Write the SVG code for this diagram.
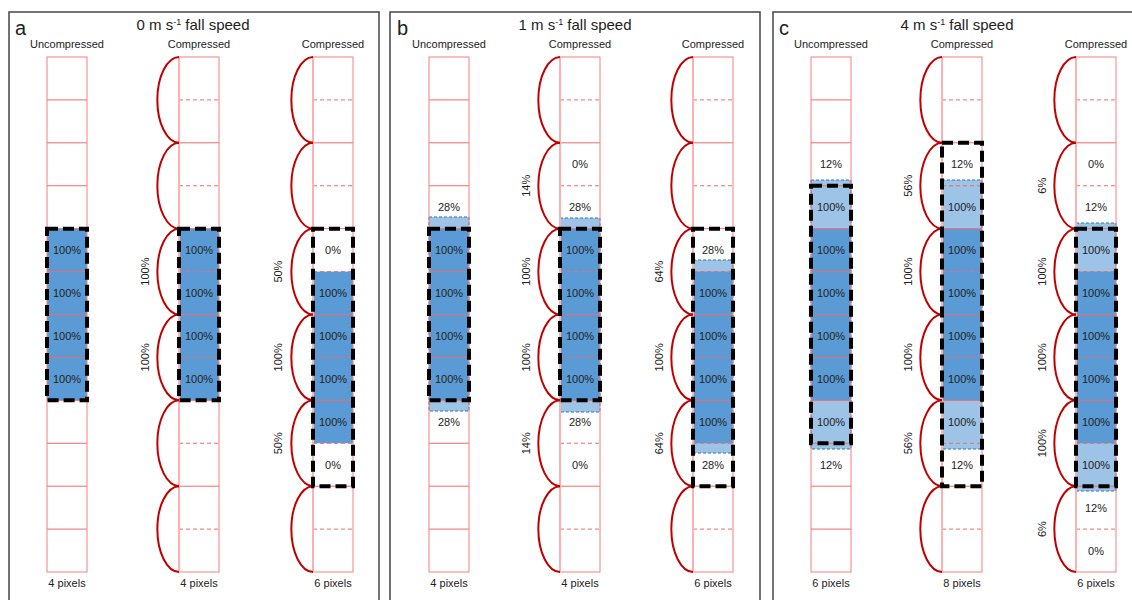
<svg xmlns="http://www.w3.org/2000/svg" xmlns:xlink="http://www.w3.org/1999/xlink" width="1132" height="600" viewBox="0 0 1132 600">
<style>
.t{font-family:"Liberation Sans",Arial,sans-serif;font-size:11px;fill:#222;text-anchor:middle}
.title{font-size:15px}
.sup{font-size:9px}
.let{font-size:20px;text-anchor:start}
.ln{stroke:#f06a6a;stroke-width:1;fill:none}
.dl{stroke:#f06a6a;stroke-width:1;stroke-dasharray:4 3;fill:none}
.out{fill:none;stroke:#f47f7f;stroke-width:1}
.le{stroke:#ffb0b0;stroke-width:2}
.loop{fill:none;stroke:#c00000;stroke-width:2}
.dk{fill:#5b9bd5}
.lt{fill:#9dc3e6;stroke:#2e75b6;stroke-width:1;stroke-dasharray:3 2}
.bx{fill:none;stroke:#000;stroke-width:4;stroke-dasharray:11 5}
.bg{fill:#fff}
.panel{fill:#fff;stroke:#444;stroke-width:1.5}
</style>
<defs>
<path id="loop" class="loop" d="M0,0 A22,42.92 0 0 0 0,85.83"/>
<g id="ucol">
<path class="ln" d="M0,99.9h40M0,142.8h40M0,185.75h40M0,228.7h40M0,271.6h40M0,314.5h40M0,357.4h40M0,400.3h40M0,443.25h40M0,486.2h40M0,529.1h40"/>
<rect class="out" x="0" y="57" width="40" height="515"/>
</g>
<g id="ccol">
<path class="ln" d="M0,142.8h40M0,228.7h40M0,314.5h40M0,400.3h40M0,486.2h40"/>
<path class="dl" d="M0,99.9h40M0,185.75h40M0,271.6h40M0,357.4h40M0,443.25h40M0,529.1h40"/>
<rect class="out" x="0" y="57" width="40" height="515"/>
<line class="le" x1="0" y1="57" x2="0" y2="572"/>
<use xlink:href="#loop" href="#loop" x="0" y="57"/>
<use xlink:href="#loop" href="#loop" x="0" y="142.8"/>
<use xlink:href="#loop" href="#loop" x="0" y="228.7"/>
<use xlink:href="#loop" href="#loop" x="0" y="314.5"/>
<use xlink:href="#loop" href="#loop" x="0" y="400.3"/>
<use xlink:href="#loop" href="#loop" x="0" y="486.2"/>
</g>
</defs>

<g id="panels">
<rect class="panel" x="9" y="12" width="370" height="600"/>
<rect class="panel" x="390" y="12" width="370" height="600"/>
<rect class="panel" x="773" y="12" width="370" height="600"/>
</g>

<!-- Panel a -->
<g id="panel-a-head">
<text class="t let" x="15" y="35">a</text>
<text class="t title" x="193" y="30">0 m s<tspan class="sup" dy="-5">-1</tspan><tspan dy="5"> fall speed</tspan></text>
</g>
<g id="a-col1">
<rect class="bg" x="47" y="57" width="40" height="515"/>
<rect class="dk" x="47" y="228.7" width="40" height="171.6"/>
<use xlink:href="#ucol" href="#ucol" x="47" y="0"/>
<rect class="bx" x="47" y="228.7" width="40" height="171.6"/>
<text class="t" x="67" y="48">Uncompressed</text>
<text class="t" x="67" y="254.1">100%</text>
<text class="t" x="67" y="297">100%</text>
<text class="t" x="67" y="340">100%</text>
<text class="t" x="67" y="382.9">100%</text>
<text class="t" x="67" y="587">4 pixels</text>
</g>
<g id="a-col2">
<rect class="bg" x="179" y="57" width="40" height="515"/>
<rect class="dk" x="179" y="228.7" width="40" height="171.6"/>
<use xlink:href="#ccol" href="#ccol" x="179" y="0"/>
<rect class="bx" x="179" y="228.7" width="40" height="171.6"/>
<text class="t" x="199" y="48">Compressed</text>
<text class="t" x="199" y="254.1">100%</text>
<text class="t" x="199" y="297">100%</text>
<text class="t" x="199" y="340">100%</text>
<text class="t" x="199" y="382.9">100%</text>
<text class="t" transform="translate(145,271.6) rotate(-90)" y="4">100%</text>
<text class="t" transform="translate(145,357.4) rotate(-90)" y="4">100%</text>
<text class="t" x="199" y="587">4 pixels</text>
</g>
<g id="a-col3">
<rect class="bg" x="313" y="57" width="40" height="515"/>
<rect class="dk" x="313" y="271.6" width="40" height="171.65"/>
<use xlink:href="#ccol" href="#ccol" x="313" y="0"/>
<rect class="bx" x="313" y="228.7" width="40" height="257.5"/>
<text class="t" x="333" y="48">Compressed</text>
<text class="t" x="333" y="254.1">0%</text>
<text class="t" x="333" y="297">100%</text>
<text class="t" x="333" y="340">100%</text>
<text class="t" x="333" y="382.9">100%</text>
<text class="t" x="333" y="425.8">100%</text>
<text class="t" x="333" y="468.7">0%</text>
<text class="t" transform="translate(278,271.6) rotate(-90)" y="4">50%</text>
<text class="t" transform="translate(278,357.4) rotate(-90)" y="4">100%</text>
<text class="t" transform="translate(278,443.25) rotate(-90)" y="4">50%</text>
<text class="t" x="333" y="587">6 pixels</text>
</g>

<!-- Panel b -->
<g id="panel-b-head">
<text class="t let" x="397" y="35">b</text>
<text class="t title" x="575" y="30">1 m s<tspan class="sup" dy="-5">-1</tspan><tspan dy="5"> fall speed</tspan></text>
</g>
<g id="b-col1">
<rect class="bg" x="429" y="57" width="40" height="515"/>
<rect class="lt" x="429" y="217" width="40" height="194"/>
<rect class="dk" x="429" y="228.7" width="40" height="171.6"/>
<use xlink:href="#ucol" href="#ucol" x="429" y="0"/>
<rect class="bx" x="429" y="228.7" width="40" height="171.6"/>
<text class="t" x="449" y="48">Uncompressed</text>
<text class="t" x="449" y="211.2">28%</text>
<text class="t" x="449" y="254.1">100%</text>
<text class="t" x="449" y="297">100%</text>
<text class="t" x="449" y="340">100%</text>
<text class="t" x="449" y="382.9">100%</text>
<text class="t" x="449" y="425.8">28%</text>
<text class="t" x="449" y="587">4 pixels</text>
</g>
<g id="b-col2">
<rect class="bg" x="560" y="57" width="40" height="515"/>
<rect class="lt" x="560" y="218" width="40" height="194"/>
<rect class="dk" x="560" y="228.7" width="40" height="171.6"/>
<use xlink:href="#ccol" href="#ccol" x="560" y="0"/>
<rect class="bx" x="560" y="228.7" width="40" height="171.6"/>
<text class="t" x="580" y="48">Compressed</text>
<text class="t" x="580" y="168.3">0%</text>
<text class="t" x="580" y="211.2">28%</text>
<text class="t" x="580" y="254.1">100%</text>
<text class="t" x="580" y="297">100%</text>
<text class="t" x="580" y="340">100%</text>
<text class="t" x="580" y="382.9">100%</text>
<text class="t" x="580" y="425.8">28%</text>
<text class="t" x="580" y="468.7">0%</text>
<text class="t" transform="translate(526,185.75) rotate(-90)" y="4">14%</text>
<text class="t" transform="translate(526,271.6) rotate(-90)" y="4">100%</text>
<text class="t" transform="translate(526,357.4) rotate(-90)" y="4">100%</text>
<text class="t" transform="translate(526,443.25) rotate(-90)" y="4">14%</text>
<text class="t" x="580" y="587">4 pixels</text>
</g>
<g id="b-col3">
<rect class="bg" x="693" y="57" width="40" height="515"/>
<rect class="lt" x="693" y="260" width="40" height="193"/>
<rect class="dk" x="693" y="271.6" width="40" height="171.65"/>
<use xlink:href="#ccol" href="#ccol" x="693" y="0"/>
<rect class="bx" x="693" y="228.7" width="40" height="257.5"/>
<text class="t" x="713" y="48">Compressed</text>
<text class="t" x="713" y="254.1">28%</text>
<text class="t" x="713" y="297">100%</text>
<text class="t" x="713" y="340">100%</text>
<text class="t" x="713" y="382.9">100%</text>
<text class="t" x="713" y="425.8">100%</text>
<text class="t" x="713" y="468.7">28%</text>
<text class="t" transform="translate(659,271.6) rotate(-90)" y="4">64%</text>
<text class="t" transform="translate(659,357.4) rotate(-90)" y="4">100%</text>
<text class="t" transform="translate(659,443.25) rotate(-90)" y="4">64%</text>
<text class="t" x="713" y="587">6 pixels</text>
</g>

<!-- Panel c -->
<g id="panel-c-head">
<text class="t let" x="779" y="35">c</text>
<text class="t title" x="957" y="30">4 m s<tspan class="sup" dy="-5">-1</tspan><tspan dy="5"> fall speed</tspan></text>
</g>
<g id="c-col1">
<rect class="bg" x="811" y="57" width="40" height="515"/>
<rect class="lt" x="811" y="180" width="40" height="269"/>
<rect class="dk" x="811" y="228.7" width="40" height="171.6"/>
<use xlink:href="#ucol" href="#ucol" x="811" y="0"/>
<rect class="bx" x="811" y="185.75" width="40" height="257.5"/>
<text class="t" x="831" y="48">Uncompressed</text>
<text class="t" x="831" y="168.3">12%</text>
<text class="t" x="831" y="211.2">100%</text>
<text class="t" x="831" y="254.1">100%</text>
<text class="t" x="831" y="297">100%</text>
<text class="t" x="831" y="340">100%</text>
<text class="t" x="831" y="382.9">100%</text>
<text class="t" x="831" y="425.8">100%</text>
<text class="t" x="831" y="468.7">12%</text>
<text class="t" x="831" y="587">6 pixels</text>
</g>
<g id="c-col2">
<rect class="bg" x="942" y="57" width="40" height="515"/>
<rect class="lt" x="942" y="180" width="40" height="269"/>
<rect class="dk" x="942" y="228.7" width="40" height="171.6"/>
<use xlink:href="#ccol" href="#ccol" x="942" y="0"/>
<rect class="bx" x="942" y="142.8" width="40" height="343.4"/>
<text class="t" x="962" y="48">Compressed</text>
<text class="t" x="962" y="168.3">12%</text>
<text class="t" x="962" y="211.2">100%</text>
<text class="t" x="962" y="254.1">100%</text>
<text class="t" x="962" y="297">100%</text>
<text class="t" x="962" y="340">100%</text>
<text class="t" x="962" y="382.9">100%</text>
<text class="t" x="962" y="425.8">100%</text>
<text class="t" x="962" y="468.7">12%</text>
<text class="t" transform="translate(908,185.75) rotate(-90)" y="4">56%</text>
<text class="t" transform="translate(908,271.6) rotate(-90)" y="4">100%</text>
<text class="t" transform="translate(908,357.4) rotate(-90)" y="4">100%</text>
<text class="t" transform="translate(908,443.25) rotate(-90)" y="4">56%</text>
<text class="t" x="962" y="587">8 pixels</text>
</g>
<g id="c-col3">
<rect class="bg" x="1076" y="57" width="40" height="515"/>
<rect class="lt" x="1076" y="223" width="40" height="268"/>
<rect class="dk" x="1076" y="271.6" width="40" height="171.65"/>
<use xlink:href="#ccol" href="#ccol" x="1076" y="0"/>
<rect class="bx" x="1076" y="228.7" width="40" height="257.5"/>
<text class="t" x="1096" y="48">Compressed</text>
<text class="t" x="1096" y="168.3">0%</text>
<text class="t" x="1096" y="211.2">12%</text>
<text class="t" x="1096" y="254.1">100%</text>
<text class="t" x="1096" y="297">100%</text>
<text class="t" x="1096" y="340">100%</text>
<text class="t" x="1096" y="382.9">100%</text>
<text class="t" x="1096" y="425.8">100%</text>
<text class="t" x="1096" y="468.7">100%</text>
<text class="t" x="1096" y="511.6">12%</text>
<text class="t" x="1096" y="554.5">0%</text>
<text class="t" transform="translate(1042,185.75) rotate(-90)" y="4">6%</text>
<text class="t" transform="translate(1042,271.6) rotate(-90)" y="4">100%</text>
<text class="t" transform="translate(1042,357.4) rotate(-90)" y="4">100%</text>
<text class="t" transform="translate(1042,443.25) rotate(-90)" y="4">100%</text>
<text class="t" transform="translate(1042,529.1) rotate(-90)" y="4">6%</text>
<text class="t" x="1096" y="587">6 pixels</text>
</g>
</svg>
